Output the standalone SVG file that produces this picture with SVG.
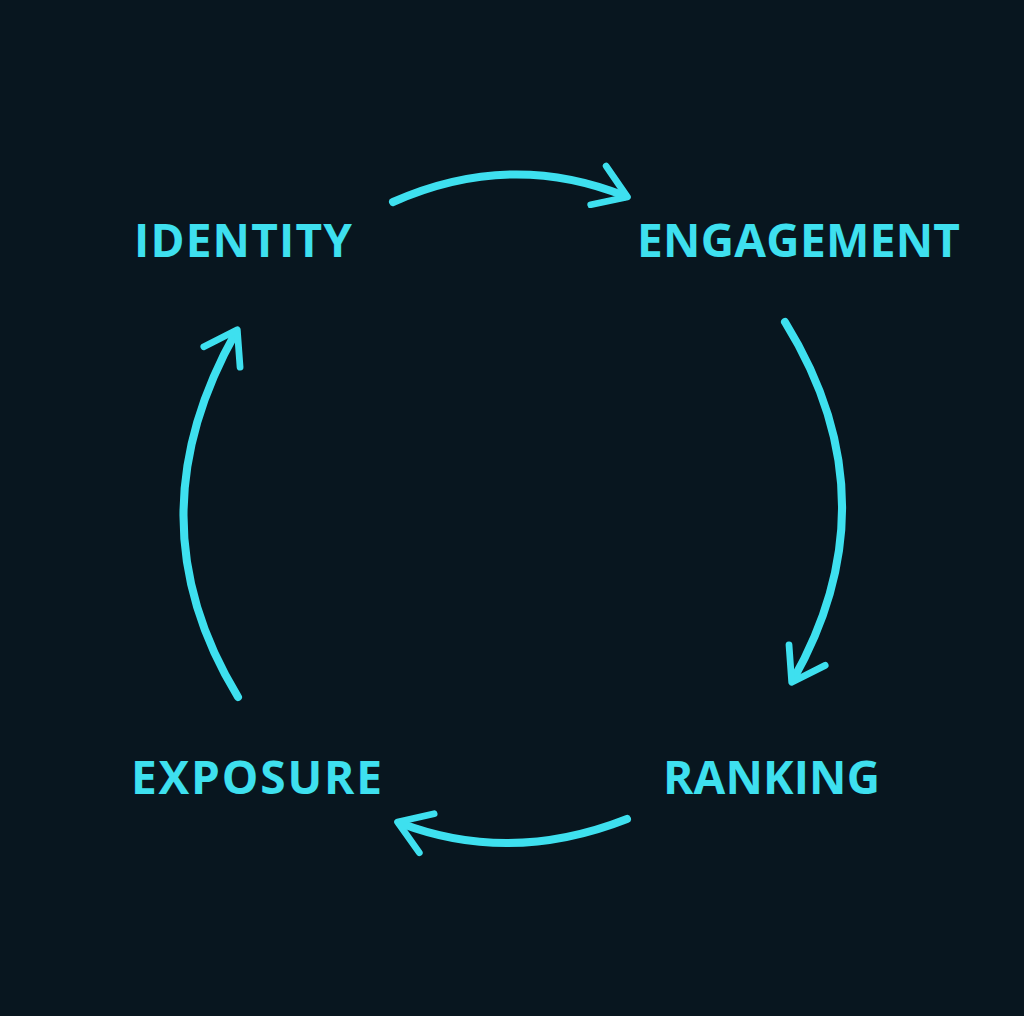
<svg xmlns="http://www.w3.org/2000/svg" width="1024" height="1016" viewBox="0 0 1024 1016">
<defs>
<marker id="ah" viewBox="0 0 20 20" refX="14" refY="10" markerWidth="6.5" markerHeight="6.5" markerUnits="strokeWidth" orient="auto">
<path d="M3 2 L15 10 L3 18" fill="none" stroke="#3ee0ef" stroke-width="2.6" stroke-linecap="round" stroke-linejoin="round"/>
</marker>
<style>
.t{font-family:"Open Sans","Liberation Sans",sans-serif;font-weight:bold;font-size:46px;fill:#3ee0ef}
.c{fill:none;stroke:#3ee0ef;stroke-width:8;stroke-linecap:round;marker-end:url(#ah)}
</style>
</defs>
<rect width="1024" height="1016" fill="#08161f"/>
<g id="identity"><text class="t" x="134" y="257" textLength="218">IDENTITY</text></g>
<g id="engagement"><text class="t" x="637" y="257" textLength="323">ENGAGEMENT</text></g>
<g id="ranking"><text class="t" x="663" y="794" textLength="217">RANKING</text></g>
<g id="exposure"><text class="t" x="131" y="794" textLength="251">EXPOSURE</text></g>
<g id="connectors">
<path class="c" d="M393 202 Q510 150 625 196"/>
<path class="c" d="M785 322 Q895 500 793 680"/>
<path class="c" d="M627 819 Q510 865 400 823"/>
<path class="c" d="M238 697 Q130 520 236 332"/>
</g>
</svg>
